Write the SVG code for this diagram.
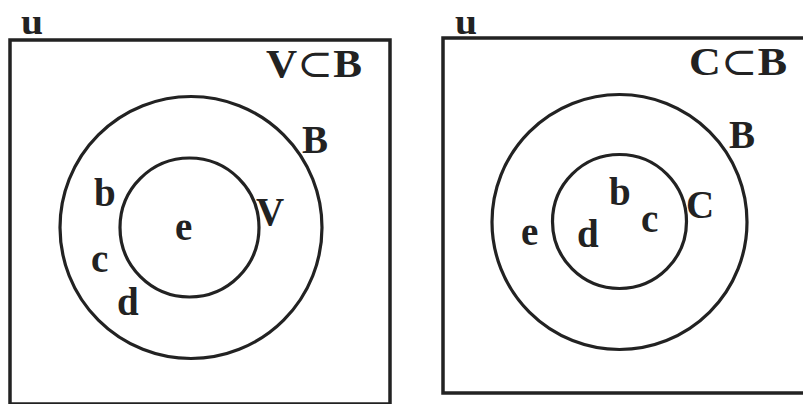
<svg xmlns="http://www.w3.org/2000/svg" width="803" height="404" viewBox="0 0 803 404">
  <style>
    .box { fill: none; stroke: #222; stroke-width: 3.5; }
    .set { fill: none; stroke: #222; stroke-width: 3.2; }
    .lbl { font-family: "Liberation Serif", "DejaVu Serif", serif; font-weight: bold; font-size: 39px; fill: #222; }
    .uni { font-size: 36px; }
    .sub { font-weight: normal; }
  </style>
  <rect x="0" y="0" width="803" height="404" fill="#ffffff"/>

  <g id="left-diagram">
    <g id="universe-left">
      <rect class="box" x="10" y="40" width="380" height="364"/>
      <text class="lbl uni" x="21" y="34" textLength="22" lengthAdjust="spacingAndGlyphs">u</text>
      <text class="lbl" x="266" y="77" textLength="96" lengthAdjust="spacingAndGlyphs">V<tspan class="sub">⊂</tspan>B</text>
    </g>
    <g id="set-B-left">
      <circle class="set" cx="191" cy="227.5" r="131"/>
      <text class="lbl" x="302" y="153">B</text>
      <text class="lbl" x="94" y="206">b</text>
      <text class="lbl" x="91" y="272">c</text>
      <text class="lbl" x="117" y="315">d</text>
    </g>
    <g id="set-V-left">
      <circle class="set" cx="189.5" cy="227.5" r="69.5"/>
      <text class="lbl" x="256" y="225">V</text>
      <text class="lbl" x="175" y="240">e</text>
    </g>
  </g>

  <g id="right-diagram">
    <g id="universe-right">
      <rect class="box" x="443" y="38" width="370" height="355"/>
      <text class="lbl uni" x="455" y="34" textLength="22" lengthAdjust="spacingAndGlyphs">u</text>
      <text class="lbl" x="689" y="75" textLength="98" lengthAdjust="spacingAndGlyphs">C<tspan class="sub">⊂</tspan>B</text>
    </g>
    <g id="set-B-right">
      <circle class="set" cx="619.5" cy="222" r="127.5"/>
      <text class="lbl" x="729" y="148">B</text>
      <text class="lbl" x="521" y="245">e</text>
    </g>
    <g id="set-C-right">
      <circle class="set" cx="619.5" cy="221.5" r="67"/>
      <text class="lbl" x="686" y="218">C</text>
      <text class="lbl" x="609" y="205">b</text>
      <text class="lbl" x="641" y="232">c</text>
      <text class="lbl" x="577" y="247">d</text>
    </g>
  </g>
  <g id="connectors"></g>
</svg>
